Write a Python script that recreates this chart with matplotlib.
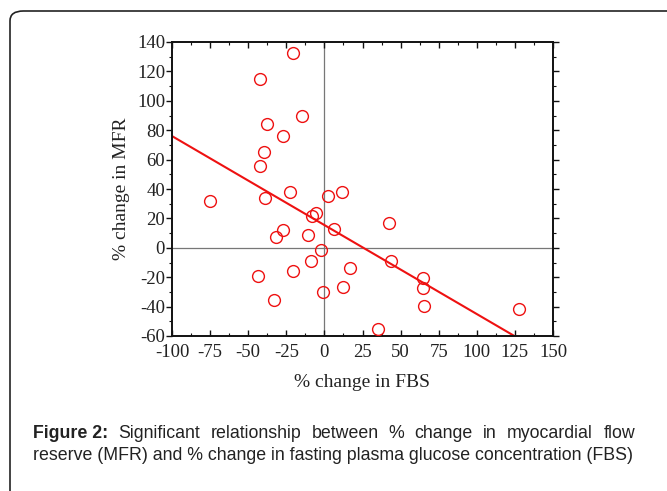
import numpy as np
import matplotlib
matplotlib.use('Agg')
import matplotlib.pyplot as plt
from matplotlib.patches import FancyBboxPatch
from matplotlib.ticker import MultipleLocator

plt.rcParams['axes.unicode_minus'] = False

# % change in FBS (x) and % change in MFR (y)
fbs_change = [-20.5, -42.0, -14.8, -37.8, -27.1, -39.8, -42.2, -75.2, -38.9, -22.7,
              2.2, 11.8, -8.1, -5.2, 6.4, -26.9, -31.5, -10.7, -2.0, -8.5,
              16.7, -20.5, -43.5, 12.1, -0.9, -33.2, 42.7, 44.0, 64.8, 64.6,
              65.4, 127.6, 35.0]
mfr_change = [132.2, 114.7, 89.6, 83.9, 76.1, 65.2, 55.6, 31.5, 34.0, 37.8,
              34.9, 38.1, 21.4, 23.7, 12.5, 12.3, 7.3, 8.4, -1.6, -9.1,
              -13.7, -15.5, -19.2, -26.7, -29.9, -35.3, 17.1, -9.1, -20.3, -27.6,
              -39.9, -41.9, -55.2]

# regression line end points
fit_x = [-100, 125]
fit_y = [76.0, -60.2]

caption_bold = 'Figure 2:'
caption_line1 = 'Significant relationship between % change in myocardial flow'
caption_line2 = 'reserve (MFR) and % change in fasting plasma glucose concentration (FBS)'

W, H = 667, 491
fig = plt.figure(figsize=(W / 100, H / 100), dpi=100)

# rounded frame, only top and left edges fall inside the picture
frame = FancyBboxPatch((10 / W, -0.5), 2.0, 1.5 - 11 / H,
                       boxstyle='round,pad=0,rounding_size=0.02',
                       transform=fig.transFigure, fill=False,
                       edgecolor='#222222', linewidth=1.2, clip_on=False)
fig.patches.append(frame)

ax = fig.add_axes([172 / W, 1 - 336 / H, (553 - 172) / W, (336 - 42) / H])

ax.axhline(0, color='#777777', linewidth=0.9, zorder=1)
ax.axvline(0, color='#777777', linewidth=0.9, zorder=1)

ax.plot(fit_x, fit_y, color='#ee1111', linewidth=1.5, zorder=2)
ax.plot(fbs_change, mfr_change, linestyle='none', marker='o', markersize=8.5,
        markerfacecolor='none', markeredgecolor='#ee1111', markeredgewidth=1.0, zorder=3)

ax.set_xlim(-100, 150)
ax.set_ylim(-60, 140)
ax.xaxis.set_major_locator(MultipleLocator(25))
ax.xaxis.set_minor_locator(MultipleLocator(12.5))
ax.yaxis.set_major_locator(MultipleLocator(20))
ax.yaxis.set_minor_locator(MultipleLocator(10))

for s in ax.spines.values():
    s.set_linewidth(1.4)
    s.set_color('#111111')

serif = ['Liberation Serif', 'DejaVu Serif']
ax.tick_params(axis='both', which='both', top=True, right=True, direction='out',
               labelsize=13.5, color='#111111')
ax.tick_params(axis='y', pad=1)
ax.tick_params(axis='x', pad=6)
ax.tick_params(which='major', length=4, width=1)
ax.tick_params(which='minor', length=2, width=0.8)
ax.tick_params(axis='x', which='both', direction='in')
for lab in ax.get_xticklabels() + ax.get_yticklabels():
    lab.set_fontfamily(serif)
    lab.set_color('#222222')

ax.set_xlabel('% change in FBS', fontsize=14, family=serif, color='#222222', labelpad=9)
ax.set_ylabel('% change in MFR', fontsize=14, family=serif, color='#222222', labelpad=5)

# caption, first line justified
sans = ['Liberation Sans', 'DejaVu Sans']
cap_size = 12.8
left_px, right_px = 33, 635
y1 = 1 - 433 / H
y2 = 1 - 456 / H

renderer = fig.canvas.get_renderer()
words = [(caption_bold, 'bold')] + [(w, 'normal') for w in caption_line1.split()]
texts = []
for w, weight in words:
    t = fig.text(0, y1, w, fontsize=cap_size, family=sans, fontweight=weight,
                 color='#222222', va='center', ha='left')
    texts.append(t)
widths = [t.get_window_extent(renderer).width for t in texts]
gap = (right_px - left_px - sum(widths)) / (len(texts) - 1)
x = left_px
for t, wd in zip(texts, widths):
    t.set_x(x / W)
    x += wd + gap

fig.text(left_px / W, y2, caption_line2, fontsize=cap_size, family=sans,
         color='#222222', va='center', ha='left')

fig.savefig('out.png', dpi=100)
